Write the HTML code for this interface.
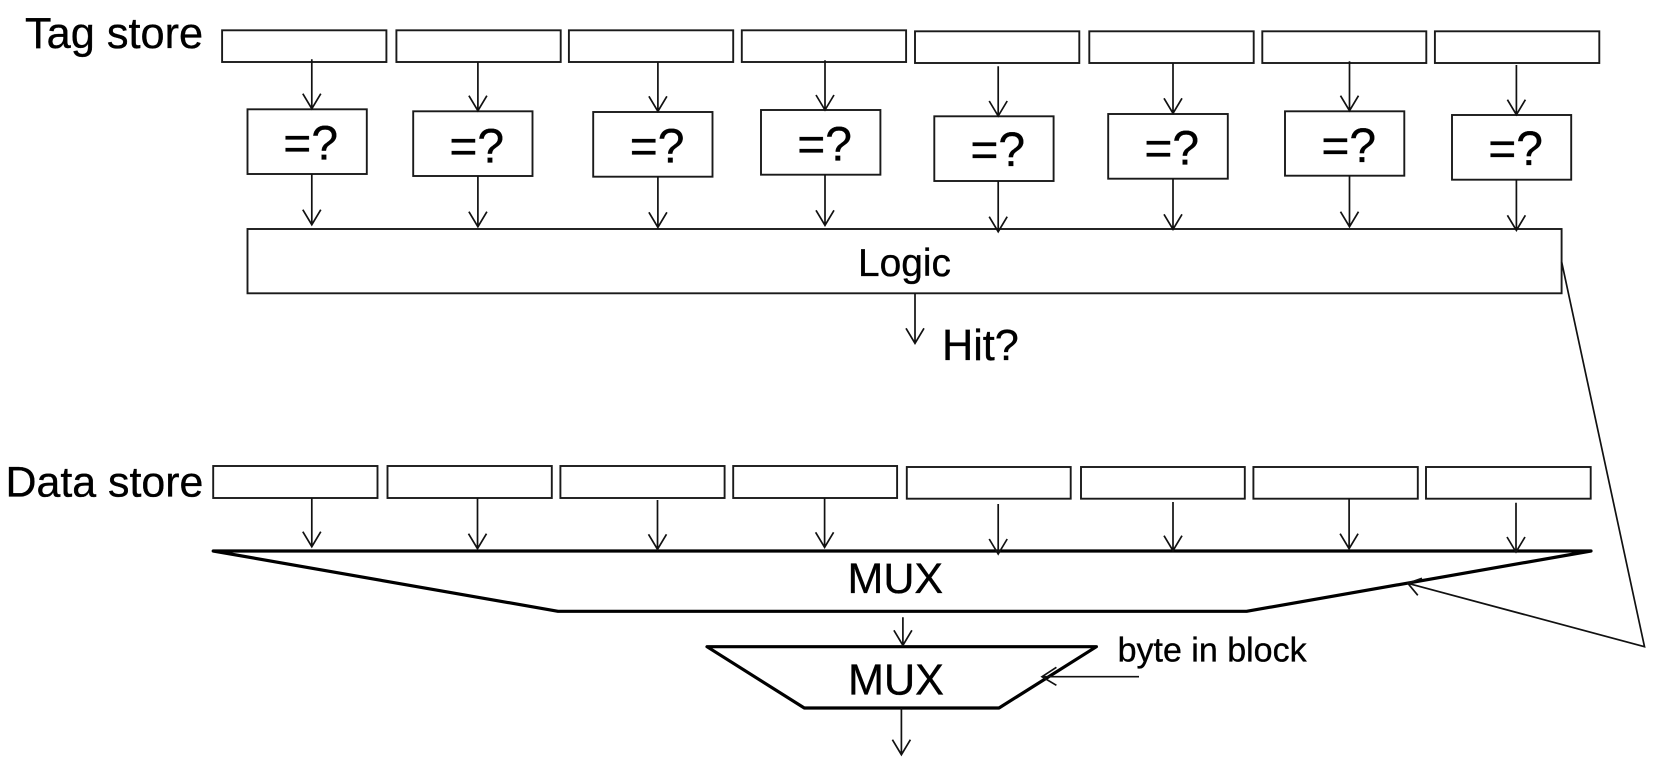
<!DOCTYPE html>
<html>
<head>
<meta charset="utf-8">
<style>
html,body{margin:0;padding:0;background:#fff;width:1658px;height:760px;overflow:hidden}
svg{display:block}
text{font-family:"Liberation Sans",Arial,sans-serif;fill:#000;stroke:#000;stroke-width:.35}
.b{fill:none;stroke:#1a1a1a;stroke-width:1.9}
.a{fill:none;stroke:#111;stroke-width:1.7}
.m{fill:none;stroke:#000;stroke-width:3.2;stroke-linejoin:round}
</style>
</head>
<body>
<svg width="1658" height="760" viewBox="0 0 1658 760" xmlns="http://www.w3.org/2000/svg">
<!-- tag store row -->
<g class="b">
<rect x="222.1" y="30.3" width="164.3" height="31.7"/>
<rect x="396.4" y="30.3" width="164.3" height="31.7"/>
<rect x="568.9" y="30.3" width="164.3" height="31.7"/>
<rect x="741.8" y="30.3" width="164.3" height="31.7"/>
<rect x="915" y="31.3" width="164.3" height="31.7"/>
<rect x="1089.3" y="31.3" width="164.4" height="31.7"/>
<rect x="1262.3" y="31.3" width="164" height="31.7"/>
<rect x="1434.9" y="31.3" width="164.4" height="31.7"/>
</g>
<!-- comparators -->
<g class="b">
<rect x="247.5" y="109.3" width="119.3" height="64.7"/>
<rect x="413.2" y="111.3" width="119.3" height="64.7"/>
<rect x="593.2" y="112" width="119.3" height="64.7"/>
<rect x="761" y="110" width="119.4" height="64.7"/>
<rect x="934.3" y="116.3" width="119.3" height="64.7"/>
<rect x="1108.2" y="114" width="119.6" height="64.7"/>
<rect x="1285" y="111.3" width="119.3" height="64.4"/>
<rect x="1452" y="115" width="119.2" height="64.7"/>
</g>
<!-- logic -->
<rect class="b" x="247.5" y="229" width="1314.1" height="64.3"/>
<!-- data store row -->
<g class="b">
<rect x="213.2" y="466" width="164.3" height="32"/>
<rect x="387.5" y="466" width="164.3" height="32"/>
<rect x="560.4" y="466" width="164.2" height="32"/>
<rect x="733.2" y="466" width="163.9" height="32"/>
<rect x="906.8" y="467" width="163.9" height="31.7"/>
<rect x="1081" y="467" width="163.8" height="31.7"/>
<rect x="1253.4" y="467" width="164.4" height="31.7"/>
<rect x="1426" y="467" width="164.7" height="31.7"/>
</g>
<!-- muxes -->
<polygon class="m" points="213.2,551 1591,551 1246.6,611.3 558,611.3"/>
<polygon class="m" points="707,646.7 1096.4,646.7 999,708 804.3,708"/>
<!-- arrows -->
<path class="a" d="
M311.8 59.3V108.7M302.8 93.7L311.8 108.7L320.8 93.7
M477.9 62V110.7M468.9 95.7L477.9 110.7L486.9 95.7
M657.9 62.3V111.3M648.9 96.3L657.9 111.3L666.9 96.3
M825 60.3V110M816 95L825 110L834 95
M998.2 66.3V116M989.2 101L998.2 116L1007.2 101
M1173 63.3V113.3M1164 98.3L1173 113.3L1182 98.3
M1349.5 61.3V110.7M1340.5 95.7L1349.5 110.7L1358.5 95.7
M1516.4 65V114.7M1507.4 99.7L1516.4 114.7L1525.4 99.7
M311.8 174V224.7M302.8 209.7L311.8 224.7L320.8 209.7
M477.9 176V226.7M468.9 211.7L477.9 226.7L486.9 211.7
M657.9 176.7V227.3M648.9 212.3L657.9 227.3L666.9 212.3
M825 174.7V225.3M816 210.3L825 225.3L834 210.3
M998.2 181V231.7M989.2 216.7L998.2 231.7L1007.2 216.7
M1173 178.7V229.3M1164 214.3L1173 229.3L1182 214.3
M1349.5 176V226.7M1340.5 211.7L1349.5 226.7L1358.5 211.7
M1516.4 179.7V230.3M1507.4 215.3L1516.4 230.3L1525.4 215.3
M915 293.3V343.3M906 328.3L915 343.3L924 328.3
M311.8 498V546.7M302.8 531.7L311.8 546.7L320.8 531.7
M477.5 498V548.7M468.5 533.7L477.5 548.7L486.5 533.7
M657.5 500V549.3M648.5 534.3L657.5 549.3L666.5 534.3
M824.6 498V547.3M815.6 532.3L824.6 547.3L833.6 532.3
M998.2 504V554M989.2 539L998.2 554L1007.2 539
M1173 502V550.7M1164 535.7L1173 550.7L1182 535.7
M1349.1 498.7V548.7M1340.1 533.7L1349.1 548.7L1358.1 533.7
M1516 502.7V552M1507 537L1516 552L1525 537
M902.9 617.3V645.3M893.9 630.3L902.9 645.3L911.9 630.3
M901.4 708V754.7M892.4 739.7L901.4 754.7L910.4 739.7
M1561.6 261.7L1644.5 646.7L1407.8 583.3
M1417.8 595.3L1407.8 583.3L1422 578.3
M1139 676.7H1042
M1056.4 667.3L1042 676.7L1056.4 685.3
"/>
<!-- labels -->
<text x="25" y="47.8" font-size="43.3">Tag store</text>
<text x="5.5" y="496.7" font-size="42.9">Data store</text>
<g font-size="48">
<text x="283.3" y="159.5">=?</text>
<text x="449.4" y="162.5">=?</text>
<text x="629.7" y="162.5">=?</text>
<text x="797.2" y="160.5">=?</text>
<text x="970.4" y="166.2">=?</text>
<text x="1144.4" y="164.5">=?</text>
<text x="1321.4" y="162.2">=?</text>
<text x="1488.2" y="165.2">=?</text>
</g>
<text x="858" y="276" font-size="38.9">Logic</text>
<text x="942" y="360" font-size="43.2">Hit?</text>
<text x="847.5" y="593" font-size="43">MUX</text>
<text x="848" y="694.5" font-size="43.2">MUX</text>
<text x="1117.6" y="661.5" font-size="34">byte in block</text>
</svg>
</body>
</html>
